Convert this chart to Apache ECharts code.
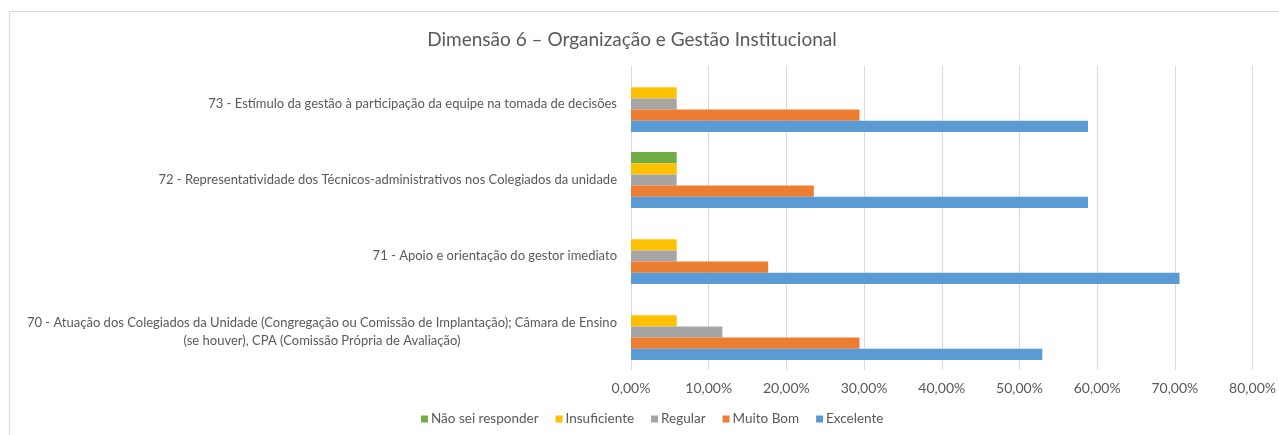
<!DOCTYPE html>
<html>
<head>
<meta charset="utf-8">
<script src="https://cdn.jsdelivr.net/npm/echarts@6/dist/echarts.min.js"></script>
<style>
  html, body { margin: 0; padding: 0; background: #fff; }
  #chart { width: 1279px; height: 435px; }
</style>
</head>
<body>
<div id="chart"></div>
<script>
// categorias (de baixo para cima)
const categories = [
  '70 - Atuação dos Colegiados da Unidade (Congregação ou Comissão de Implantação); Câmara de Ensino\n(se houver), CPA (Comissão Própria de Avaliação)',
  '71 - Apoio e orientação do gestor imediato',
  '72 - Representatividade dos Técnicos-administrativos nos Colegiados da unidade',
  '73 - Estímulo da gestão à participação da equipe na tomada de decisões'
];

// valores em %
const naoSei = [0, 0, 5.88, 0];
const insuficiente = [5.88, 5.88, 5.88, 5.88];
const regular = [11.76, 5.88, 5.88, 5.88];
const muitoBom = [29.41, 17.65, 23.53, 29.41];
const excelente = [52.94, 70.59, 58.82, 58.82];

const seriesNames = ['Não sei responder', 'Insuficiente', 'Regular', 'Muito Bom', 'Excelente'];
const seriesData = [naoSei, insuficiente, regular, muitoBom, excelente];
const colors = ['#70AD47', '#FFC000', '#A5A5A5', '#ED7D31', '#5B9BD5'];

const font = 'Lato, "Open Sans", sans-serif';
const textColor = '#595959';

const chart = echarts.init(document.getElementById('chart'), null, { renderer: 'canvas' });

chart.setOption({
  animation: false,
  backgroundColor: '#fff',
  textStyle: { fontFamily: font },
  graphic: [{
    type: 'rect',
    left: 7, top: 9,
    shape: { width: 1300, height: 440 },
    style: { fill: 'none', stroke: '#D9D9D9', lineWidth: 1 },
    z: -1
  }],
  title: {
    text: 'Dimensão 6 – Organização e Gestão Institucional',
    left: 627, top: 25, textAlign: 'center',
    textStyle: { fontFamily: font, fontSize: 19, fontWeight: 'normal', color: textColor }
  },
  legend: {
    data: seriesNames,
    bottom: 4, left: 416,
    itemWidth: 7, itemHeight: 7, itemGap: 17,
    icon: 'rect',
    textStyle: { fontFamily: font, fontSize: 13.5, color: textColor, padding: [0, 0, 0, -2] }
  },
  grid: { left: 631, right: 22, top: 66, bottom: 65, containLabel: false },
  xAxis: {
    type: 'value',
    min: 0, max: 80, interval: 10,
    axisLine: { show: false },
    axisTick: { show: false },
    splitLine: { lineStyle: { color: '#D9D9D9' } },
    axisLabel: {
      color: textColor, fontSize: 14, fontFamily: font, margin: 11,
      formatter: v => v.toFixed(2).replace('.', ',') + '%'
    }
  },
  yAxis: {
    type: 'category',
    data: categories,
    axisLine: { show: false },
    axisTick: { show: false },
    axisLabel: {
      color: textColor, fontSize: 13, fontFamily: font, margin: 14,
      formatter: v => v.split('\n').map(l => '{c|' + l + '}').join('\n'),
      rich: { c: { align: 'center', color: textColor, fontSize: 13, fontFamily: font, lineHeight: 18 } }
    }
  },
  series: seriesNames.map((name, i) => ({
    name: name,
    type: 'bar',
    data: seriesData[i],
    itemStyle: { color: colors[i] },
    barGap: '0%',
    barCategoryGap: '26%'
  }))
});
</script>
</body>
</html>
